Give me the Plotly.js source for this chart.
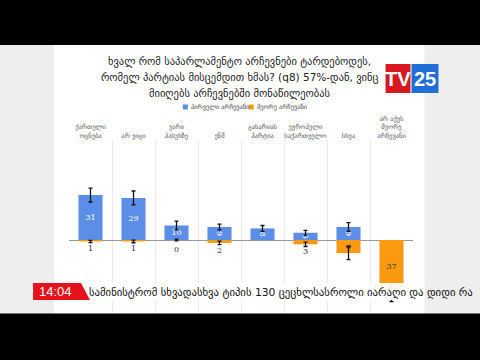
<!DOCTYPE html>
<html>
<head>
<meta charset="utf-8">
<script src="https://cdn.plot.ly/plotly-3.0.1.min.js"></script>
<style>
  html, body { margin: 0; padding: 0; background: #000; }
  #chart { width: 480px; height: 360px; }
</style>
</head>
<body>
<div id="chart"></div>
<script>
// Party preference survey: first choice (up) vs second choice (down), %
const categories = [
  'ქართული<br>ოცნება',
  'არ ვიცი',
  'უარი<br>პასუხზე',
  'ენმ',
  'გახარიას<br>პარტია',
  'ევროპული<br>საქართველო',
  'სხვა',
  'არ აქვს<br>მეორე<br>არჩევანი'
];
const firstChoice = [31, 29, 10, 9, 8, 5, 9, null];
const firstChoiceErr = [4.8, 4.8, 3, 2, 2, 1.6, 3, 0];
const secondChoice = [1, 1, 0, 2, null, 3, 9, 37];
const secondChoiceErr = [0.8, 0.9, 0.6, 1.2, 0, 1.5, 4.5, 5.5];
const secondLabelPos = ['outside', 'outside', 'none', 'outside', 'none', 'outside', 'inside', 'inside'];

const legendNames = ['პირველი არჩევანი', 'მეორე არჩევანი'];
const titleLines = [
  'ხვალ რომ საპარლამენტო არჩევნები ტარდებოდეს,',
  'რომელ პარტიას მისცემდით ხმას? (q8) 57%-დან, ვინც',
  'მიიღებს არჩევნებში მონაწილეობას'
];
const clockText = '14:04';
const tickerText = 'სამინისტრომ სხვადასხვა ტიპის 130 ცეცხლსასროლი იარაღი და დიდი რა';

const BLUE = '#5b8ee6';
const ORANGE = '#fb9a10';

// plot frame in pixels
const W = 480, H = 360;
const PL = 69, PR = 413.5, PT = 140, PB = 313;
const X = px => (px - PL) / (PR - PL);
const Y = py => (PB - py) / (PB - PT);

const FONT = '"DejaVu Sans", "Noto Sans", sans-serif';
const LABEL_FONT = '"DejaVu Serif", serif';

const traces = [
  {
    type: 'bar',
    name: legendNames[0],
    x: categories,
    y: firstChoice,
    marker: { color: BLUE },
    text: firstChoice.map(v => v == null ? '' : String(v)),
    textposition: 'inside',
    insidetextanchor: 'middle',
    constraintext: 'none',
    insidetextfont: { family: LABEL_FONT, size: 8, color: '#ffffff' },
    error_y: { type: 'data', array: firstChoiceErr, visible: true, color: '#111', thickness: 1.3, width: 2 },
    hoverinfo: 'skip',
    showlegend: false
  },
  {
    type: 'bar',
    name: legendNames[1],
    x: categories,
    y: secondChoice.map(v => v == null ? null : -v),
    marker: { color: ORANGE },
    text: secondChoice.map(v => v == null ? '' : String(v)),
    textposition: secondLabelPos,
    insidetextanchor: 'middle',
    constraintext: 'none',
    cliponaxis: false,
    insidetextfont: { family: LABEL_FONT, size: 8, color: '#333' },
    outsidetextfont: { family: LABEL_FONT, size: 8, color: '#333' },
    error_y: { type: 'data', array: secondChoiceErr, visible: true, color: '#111', thickness: 1.3, width: 2 },
    hoverinfo: 'skip',
    showlegend: false
  }
];

// label for zero-height bar (placed under the axis like the other small values)
const annotations = [];
secondChoice.forEach((v, i) => {
  if (v === 0) {
    annotations.push({
      x: categories[i], y: -v, xref: 'x', yref: 'y',
      text: String(v), showarrow: false, xanchor: 'center', yanchor: 'top', yshift: -3,
      font: { family: LABEL_FONT, size: 8, color: '#333' }
    });
  }
});

const shapes = [];
// white page panel
shapes.push({ type: 'rect', xref: 'paper', yref: 'paper', layer: 'below',
  x0: X(54), x1: X(425), y0: Y(45), y1: Y(313), fillcolor: '#ffffff', line: { width: 0 } });

// legend
const legendItems = [
  { color: BLUE, text: legendNames[0], sq: 183, tx: 189 },
  { color: ORANGE, text: legendNames[1], sq: 249, tx: 255 }
];
const LEG_Y = 107;
legendItems.forEach(it => {
  shapes.push({ type: 'rect', xref: 'paper', yref: 'paper',
    x0: X(it.sq), x1: X(it.sq + 5), y0: Y(LEG_Y - 2.5), y1: Y(LEG_Y + 2.5),
    fillcolor: it.color, line: { width: 0 } });
  annotations.push({ xref: 'paper', yref: 'paper', x: X(it.tx), y: Y(LEG_Y),
    xanchor: 'left', yanchor: 'middle', showarrow: false, text: it.text,
    font: { family: FONT, size: 6.4, color: '#444' } });
});

// title, one annotation per line
const TITLE_Y = [62, 77.5, 93];
titleLines.forEach((line, i) => {
  annotations.push({ xref: 'paper', yref: 'paper', x: X(240), y: Y(TITLE_Y[i]),
    xanchor: 'center', yanchor: 'middle', showarrow: false,
    text: line, font: { family: FONT, size: 10.5, color: '#222' } });
});

// channel logo
const LOGO_T = 64, LOGO_B = 93;
shapes.push({ type: 'rect', xref: 'paper', yref: 'paper', layer: 'above',
  x0: X(386), x1: X(411), y0: Y(LOGO_T), y1: Y(LOGO_B), fillcolor: '#d7191f', line: { width: 0 } });
shapes.push({ type: 'rect', xref: 'paper', yref: 'paper', layer: 'above',
  x0: X(412), x1: X(439), y0: Y(LOGO_T), y1: Y(LOGO_B), fillcolor: '#1f6fd6', line: { width: 0 } });
annotations.push({ xref: 'paper', yref: 'paper', x: X(398.5), y: Y((LOGO_T + LOGO_B) / 2),
  xanchor: 'center', yanchor: 'middle', showarrow: false,
  text: '<b>TV</b>', font: { family: '"Liberation Sans", Arial, sans-serif', size: 20, color: '#fff' } });
annotations.push({ xref: 'paper', yref: 'paper', x: X(425.5), y: Y((LOGO_T + LOGO_B) / 2),
  xanchor: 'center', yanchor: 'middle', showarrow: false,
  text: '<b>25</b>', font: { family: '"Liberation Sans", Arial, sans-serif', size: 20, color: '#fff' } });

// news ticker
shapes.push({ type: 'rect', xref: 'paper', yref: 'paper', layer: 'above',
  x0: X(54), x1: X(425), y0: Y(283), y1: Y(300), fillcolor: 'rgba(255,255,255,0.93)', line: { width: 0 } });
shapes.push({ type: 'path', xref: 'paper', yref: 'paper', layer: 'above',
  path: `M${X(33)},${Y(283)} L${X(81)},${Y(283)} L${X(90)},${Y(300)} L${X(33)},${Y(300)} Z`,
  fillcolor: '#e5121b', line: { width: 0 } });
annotations.push({ xref: 'paper', yref: 'paper', x: X(55), y: Y(291.5),
  xanchor: 'center', yanchor: 'middle', showarrow: false,
  text: clockText, font: { family: '"Liberation Sans", Arial, sans-serif', size: 13, color: '#fff' } });
annotations.push({ xref: 'paper', yref: 'paper', x: X(87), y: Y(292),
  xanchor: 'left', yanchor: 'middle', showarrow: false,
  text: tickerText, font: { family: FONT, size: 10.7, color: '#111' } });

// broadcast frame bands
shapes.push({ type: 'rect', xref: 'paper', yref: 'paper', layer: 'above',
  x0: X(-5), x1: X(W + 5), y0: Y(-5), y1: Y(45), fillcolor: '#000', line: { width: 0 } });
shapes.push({ type: 'rect', xref: 'paper', yref: 'paper', layer: 'above',
  x0: X(-5), x1: X(W + 5), y0: Y(313.5), y1: Y(H + 5), fillcolor: '#000', line: { width: 0 } });

const zeroPx = 240;
const unitPx = 1.45;
const layout = {
  width: W, height: H,
  margin: { l: PL, r: W - PR, t: PT, b: H - PB, pad: 0 },
  paper_bgcolor: '#eeeeee',
  plot_bgcolor: 'rgba(0,0,0,0)',
  barmode: 'overlay',
  bargap: 0.44,
  showlegend: false,
  xaxis: {
    type: 'category', side: 'top', tickson: 'boundaries', tickangle: 0,
    showgrid: true, gridcolor: '#ebebeb', gridwidth: 1,
    ticks: '', showline: false, zeroline: false,
    tickfont: { family: FONT, size: 6.5, color: '#555' },
    fixedrange: true
  },
  yaxis: {
    range: [-(PB - zeroPx) / unitPx, (zeroPx - PT) / unitPx],
    showgrid: false, showticklabels: false, ticks: '',
    zeroline: true, zerolinecolor: '#9a9a9a', zerolinewidth: 1,
    fixedrange: true
  },
  shapes: shapes,
  annotations: annotations
};

Plotly.newPlot('chart', traces, layout, { staticPlot: true, displayModeBar: false });
</script>
</body>
</html>
